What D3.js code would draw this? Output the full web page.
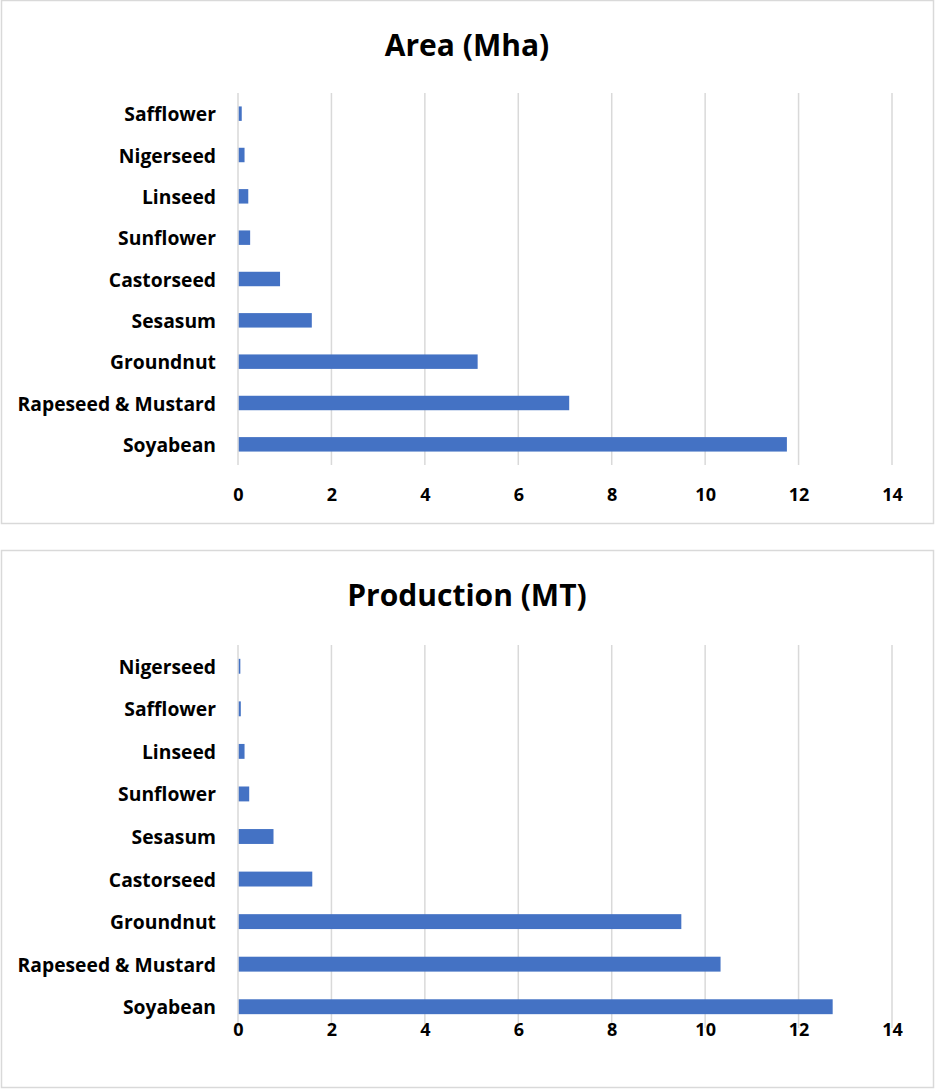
<!DOCTYPE html>
<html>
<head>
<meta charset="utf-8">
<script src="https://cdnjs.cloudflare.com/ajax/libs/d3/7.8.5/d3.min.js"></script>
<style>
  html, body { margin: 0; padding: 0; background: #fff; }
  svg { display: block; }
  text { font-family: "Open Sans", Lato, sans-serif; font-weight: 700; fill: #000; }
</style>
</head>
<body>
<svg id="chart" width="935" height="1090"></svg>
<script>
// Area under oilseed crops (million hectares), listed top to bottom
const areaCrops = ["Safflower", "Nigerseed", "Linseed", "Sunflower", "Castorseed",
                   "Sesasum", "Groundnut", "Rapeseed & Mustard", "Soyabean"];
const areaValues = [0.08, 0.14, 0.22, 0.26, 0.90, 1.58, 5.13, 7.09, 11.75];

// Production of oilseed crops (million tonnes), listed top to bottom
const prodCrops = ["Nigerseed", "Safflower", "Linseed", "Sunflower", "Sesasum",
                   "Castorseed", "Groundnut", "Rapeseed & Mustard", "Soyabean"];
const prodValues = [0.05, 0.06, 0.14, 0.24, 0.76, 1.59, 9.49, 10.33, 12.73];

const xTicks = [0, 2, 4, 6, 8, 10, 12, 14];

const svg = d3.select("#chart");

function panel(cfg) {
  const g = svg.append("g");

  // frame
  g.append("rect")
    .attr("x", cfg.box[0] + 0.5).attr("y", cfg.box[1] + 0.5)
    .attr("width", cfg.box[2]).attr("height", cfg.box[3])
    .attr("fill", "#fff").attr("stroke", "#d9d9d9").attr("stroke-width", 1.5);

  // title
  g.append("text")
    .attr("x", cfg.titleX).attr("y", cfg.titleY)
    .attr("text-anchor", "middle")
    .attr("dominant-baseline", "central")
    .style("font-size", "30px")
    .text(cfg.title);

  const x = d3.scaleLinear().domain([0, 14]).range([238, 892]);
  const y = d3.scaleBand().domain(cfg.cats).range(cfg.yRange).paddingInner(0.65).paddingOuter(0.325);

  // vertical gridlines
  g.append("g").selectAll("line").data(xTicks).join("line")
    .attr("x1", d => x(d)).attr("x2", d => x(d))
    .attr("y1", cfg.yRange[0]).attr("y2", cfg.yRange[1])
    .attr("stroke", "#d9d9d9").attr("stroke-width", 1.5);

  // bars
  const data = cfg.cats.map((c, i) => ({ c, v: cfg.vals[i] }));
  g.append("g").selectAll("rect").data(data).join("rect")
    .attr("x", x(0) + 0.75)
    .attr("y", d => y(d.c))
    .attr("width", d => Math.max(0, x(d.v) - x(0) - 0.75))
    .attr("height", y.bandwidth())
    .attr("fill", "#4472c4");

  // category labels
  g.append("g").selectAll("text").data(cfg.cats).join("text")
    .attr("x", 216)
    .attr("y", d => y(d) + y.bandwidth() / 2)
    .attr("text-anchor", "end")
    .attr("dominant-baseline", "central")
    .style("font-size", "19.3px")
    .text(d => d);

  // value axis labels
  const axis = d3.axisBottom(x).tickValues(xTicks).tickSize(0).tickPadding(0).tickFormat(d3.format("d"));
  const ax = g.append("g").attr("transform", `translate(0,${cfg.tickY})`).call(axis);
  ax.select(".domain").remove();
  ax.selectAll("text")
    .attr("y", 0).attr("dy", null)
    .attr("dominant-baseline", "central")
    .style("font-size", "18px")
    .style("font-family", "'Open Sans', Lato, sans-serif")
    .style("font-weight", 700)
    .attr("fill", "#000");
}

panel({
  box: [1, 0, 932, 523],
  title: "Area (Mha)", titleX: 467, titleY: 44,
  cats: areaCrops, vals: areaValues,
  yRange: [93, 465], tickY: 494
});

panel({
  box: [1, 550, 932, 537],
  title: "Production (MT)", titleX: 467, titleY: 594,
  cats: prodCrops, vals: prodValues,
  yRange: [645, 1028], tickY: 1029
});
</script>
</body>
</html>
